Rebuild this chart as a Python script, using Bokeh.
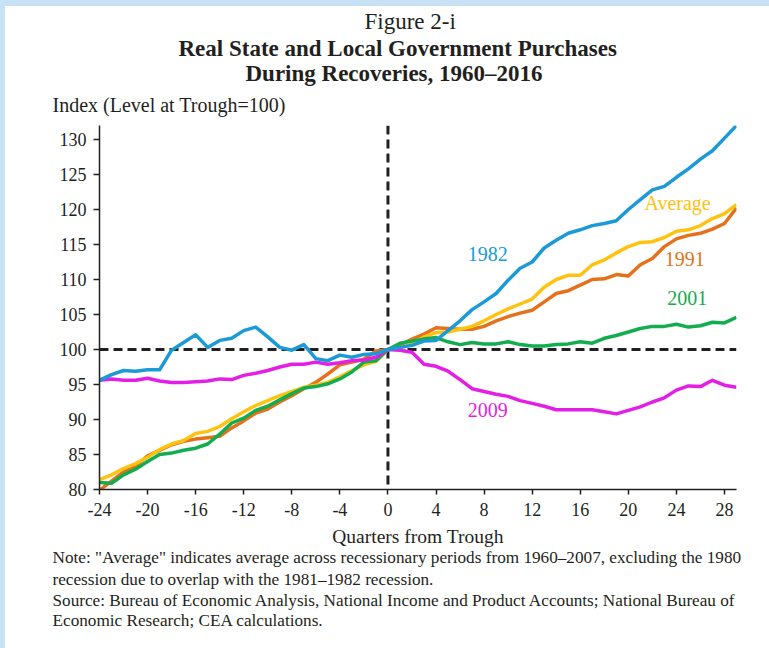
from bokeh.plotting import figure
from bokeh.models import Span, FixedTicker, GlobalInlineStyleSheet, Title
from bokeh.core.properties import value
from bokeh.embed import file_html
from bokeh.resources import INLINE

# ---------------- data ----------------
quarters = list(range(-24, 30))

s1982 = [95.6, 96.4, 97.0, 96.9, 97.1, 97.1, 99.9, 101.0, 102.1, 100.3, 101.3, 101.6,
         102.7, 103.2, 101.8, 100.3, 99.9, 100.7, 98.7, 98.4, 99.2, 98.9, 99.3, 99.4,
         100.0,
         100.3, 100.6, 101.2, 101.3, 102.7, 104.1, 105.7, 106.8, 108.0, 109.9, 111.6, 112.5,
         114.5, 115.6, 116.6, 117.1, 117.7, 118.0, 118.4, 120.0, 121.4, 122.8, 123.3, 124.6,
         125.8, 127.2, 128.4, 130.2, 132.0]

s1991 = [79.9, 81.2, 82.5, 83.3, 84.8, 85.6, 86.4, 86.9, 87.2, 87.4, 87.6, 88.8,
         89.8, 90.9, 91.5, 92.5, 93.4, 94.4, 95.3, 96.5, 97.8, 98.2, 98.6, 99.8,
         100.0,
         100.6, 101.5, 102.2, 103.1, 103.0, 102.9, 102.9, 103.3, 104.1, 104.7, 105.2, 105.6,
         106.8, 108.0, 108.4, 109.2, 110.0, 110.1, 110.7, 110.5, 112.1, 113.0, 114.7, 115.8,
         116.3, 116.6, 117.2, 118.0, 120.2]

s2001 = [81.0, 80.9, 82.1, 82.9, 84.0, 85.0, 85.2, 85.6, 85.9, 86.5, 87.9, 89.5,
         90.2, 91.3, 91.9, 92.8, 93.7, 94.5, 94.7, 95.1, 95.8, 96.8, 98.2, 98.4,
         100.0,
         100.9, 101.2, 101.5, 101.7, 101.1, 100.7, 101.0, 100.8, 100.8, 101.1, 100.7, 100.5,
         100.5, 100.7, 100.8, 101.1, 100.9, 101.6, 102.0, 102.5, 103.0, 103.3, 103.3, 103.6,
         103.2, 103.4, 103.9, 103.8, 104.6]

s2009 = [95.6, 95.8, 95.6, 95.6, 95.9, 95.5, 95.3, 95.3, 95.4, 95.5, 95.8, 95.7,
         96.3, 96.6, 97.0, 97.5, 97.9, 97.9, 98.2, 97.9, 98.1, 98.4, 98.5, 98.9,
         100.0,
         99.9, 99.6, 97.9, 97.6, 96.9, 95.7, 94.4, 94.0, 93.6, 93.3, 92.7, 92.3,
         91.9, 91.4, 91.4, 91.4, 91.4, 91.1, 90.8, 91.3, 91.8, 92.5, 93.1, 94.2,
         94.8, 94.7, 95.6, 94.9, 94.6]

average = [81.4, 82.1, 83.0, 83.7, 84.6, 85.7, 86.5, 87.0, 88.0, 88.3, 89.0, 90.1,
           91.1, 92.0, 92.7, 93.4, 94.0, 94.6, 94.9, 95.3, 96.1, 97.0, 97.8, 98.3,
           100.0,
           100.2, 100.8, 101.8, 102.4, 102.5, 102.9, 103.3, 104.1, 105.0, 105.8, 106.5, 107.2,
           108.9, 110.0, 110.6, 110.6, 112.1, 112.8, 113.8, 114.7, 115.3, 115.4, 116.0, 116.9,
           117.1, 117.7, 118.7, 119.4, 120.7]

series_names = ["1991", "Average", "2001", "2009", "1982"]
series_values = [s1991, average, s2001, s2009, s1982]
series_colors = ["#E5711B", "#FFC20E", "#12AD4F", "#E41EE4", "#1A9AD6"]

x_ticks = list(range(-24, 29, 4))
x_tick_labels = ["-24", "-20", "-16", "-12", "-8", "-4", "0", "4", "8", "12", "16", "20", "24", "28"]
y_ticks = list(range(80, 131, 5))
trough_level = 100
trough_quarter = 0

# series label placement (data space)
label_text = ["1982", "Average", "1991", "2001", "2009"]
label_x = [8.3, 24.1, 24.7, 24.9, 8.3]
label_y = [113.6, 120.9, 113.0, 107.3, 91.3]
label_colors = ["#1A9AD6", "#FFC20E", "#E5711B", "#12AD4F", "#E41EE4"]

title_top = "Figure 2-i"
title_main = ["Real State and Local Government Purchases", "During Recoveries, 1960\u20132016"]
y_title = "Index (Level at Trough=100)"
x_title = "Quarters from Trough"
notes = [
    'Note: "Average"  indicates average across recessionary periods from 1960\u20132007, excluding the 1980',
    "recession due to overlap with the 1981\u20131982 recession.",
    "Source: Bureau of Economic Analysis, National Income and Product Accounts; National Bureau of",
    "Economic Research; CEA calculations.",
]

# ---------------- styling ----------------
FONT = "Liberation Serif"
INK = "#231f20"

p = figure(frame_width=637, frame_height=364, x_range=(-24, 29), y_range=(80, 132),
           output_backend="svg", toolbar_location=None,
           min_border_left=91, min_border_right=25, min_border_top=0, min_border_bottom=0)
p.title.visible = False
p.grid.visible = False
p.outline_line_color = None
p.background_fill_color = "white"
p.border_fill_color = "white"

for ax in (p.xaxis[0], p.yaxis[0]):
    ax.axis_line_color = INK
    ax.axis_line_width = 1.5
    ax.major_tick_line_color = INK
    ax.major_tick_line_width = 1.5
    ax.major_tick_in = 0
    ax.minor_tick_line_color = None
    ax.major_label_text_font = FONT
    ax.major_label_text_font_size = "18px"
    ax.major_label_text_color = INK

p.xaxis.ticker = FixedTicker(ticks=x_ticks)
p.xaxis.major_label_overrides = {t: s for t, s in zip(x_ticks, x_tick_labels)}
p.yaxis.ticker = FixedTicker(ticks=y_ticks)
p.xaxis.major_tick_out = 5
p.yaxis.major_tick_out = 6
p.xaxis.major_label_standoff = 8
p.yaxis.major_label_standoff = 7
p.xaxis.axis_label = x_title
p.xaxis.axis_label_text_font = FONT
p.xaxis.axis_label_text_font_size = "19.5px"
p.xaxis.axis_label_text_font_style = "normal"
p.xaxis.axis_label_text_color = INK
p.xaxis.axis_label_standoff = 7

p.add_layout(Span(location=trough_level, dimension="width", line_color=INK,
                  line_width=3, line_dash="9 5", level="underlay"))
p.add_layout(Span(location=trough_quarter, dimension="height", line_color=INK,
                  line_width=3, line_dash="9 5", level="underlay"))

for vals, col in zip(series_values, series_colors):
    p.line(quarters, vals, line_color=col, line_width=3.5, line_join="round")

p.text(x=label_x, y=label_y, text=label_text, text_color=label_colors,
       text_font=value(FONT), text_font_size="20px",
       text_align="center", text_baseline="middle")


def title(text, side, size, offset, standoff, style="normal"):
    p.add_layout(Title(text=text, align="left", offset=offset, standoff=standoff,
                       vertical_align="middle", text_font=FONT, text_font_size=size,
                       text_font_style=style, text_color=INK), side)


# header: added nearest-to-frame first
title(y_title, "above", "20px", -47, 16.9)
title(title_main[1], "above", "23px", 146, -5.5, "bold")
title(title_main[0], "above", "23px", 79, 0.5, "bold")
title(title_top, "above", "23px", 265, -1.5)

# notes below the axis
for t, s in zip(notes, [-5, 6.4, -6, 4.4]):
    title(t, "below", "17.2px", -47, s)

p.stylesheets = [GlobalInlineStyleSheet(css=(
    "html{border-top:6px solid #c7e2f5;border-left:5px solid #c7e2f5;background:white;}"
    "body{margin:2px 8px 8px 3px;}"))]

open("out.html", "w").write(file_html(p, INLINE))
